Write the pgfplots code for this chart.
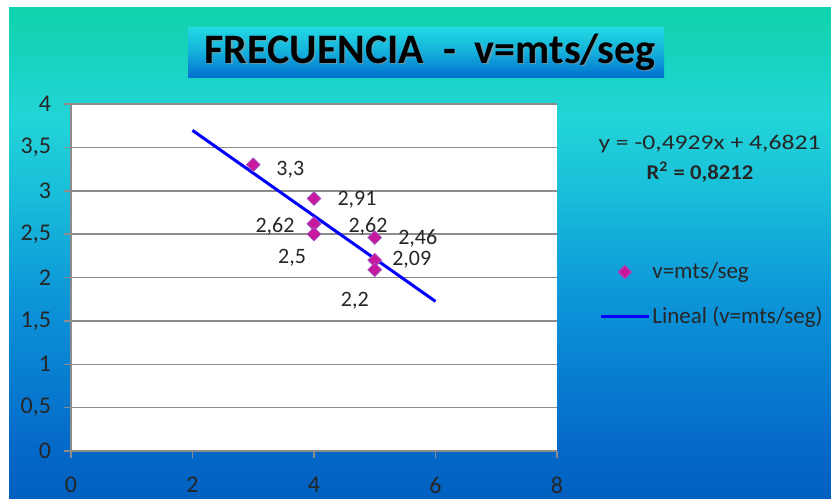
\documentclass[border=0pt]{standalone}
\usepackage{fontspec}
\setmainfont{Carlito}
\usepackage{graphicx}
\usepackage{pgfplots}
\usepackage{pgfplotstable}
\pgfplotsset{compat=1.18}
\definecolor{cA}{HTML}{0060C0}
\definecolor{cB}{HTML}{0468C8}
\definecolor{cC}{HTML}{0C94D8}
\definecolor{cD}{HTML}{18BCDA}
\definecolor{cE}{HTML}{22D4D8}
\definecolor{cF}{HTML}{10D3AC}
\definecolor{ttop}{HTML}{22DAE2}
\definecolor{tbot}{HTML}{0070D0}
\definecolor{mag}{HTML}{C8189E}
\definecolor{magd}{HTML}{A050C0}
\definecolor{gridc}{HTML}{8C8C8C}
\pgfdeclareverticalshading{bgshade}{100bp}{color(0bp)=(cA); color(25bp)=(cA); color(29.8bp)=(cB); color(45bp)=(cC); color(55.5bp)=(cD); color(63.5bp)=(cE); color(75bp)=(cF); color(100bp)=(cF)}
\pgfplotsset{
  legmark/.style={legend image code/.code={\draw[mark repeat=2, mark phase=2, ##1] plot coordinates {(0pt,0pt) (12pt,0pt) (24pt,0pt)};}},
  legline/.style={legend image code/.code={\draw[##1] (0pt,0pt) -- (24pt,0pt);}}
}
\pgfplotstableread{
x y lbl dx dy
3 3.3 3,3 18.5 -2.5
4 2.91 2,91 21.5 -0.5
4 2.62 2,62 -19.5 -1.5
4 2.62 2,62 27 -1.5
4 2.5 2,5 -11 -12
5 2.46 2,46 21.5 -0.5
5 2.2 2,2 -10 -20.5
5 2.09 2,09 18.5 5
}\datatable
\pgfplotstableread{
x y
2 3.6963
6 1.7247
}\trendtable
\begin{document}
\begin{tikzpicture}
\fill[white] (0pt,0pt) rectangle (415.5pt,-249pt);
\shade[shading=bgshade] (4.5pt,-3.5pt) rectangle (415.5pt,-249pt);
\shade[top color=ttop, bottom color=tbot, middle color=ttop!60!tbot] (94pt,-13.5pt) rectangle (332pt,-38.5pt);
\node[font=\bfseries\fontsize{21}{22}\selectfont, text=black!40, opacity=0.6] at (215.6pt,-26.6pt) {FRECUENCIA\ \ -\ \ v=mts/seg};
\node[font=\bfseries\fontsize{21}{22}\selectfont, text=black] at (215pt,-26pt) {FRECUENCIA\ \ -\ \ v=mts/seg};
\node[font=\fontsize{10.5}{12}\selectfont, text=black!85] at (354.75pt,-72pt) {\scalebox{1.22}[1]{y = -0,4929x + 4,6821}};
\node[font=\bfseries\fontsize{10.5}{12}\selectfont, text=black!85] at (350pt,-86pt) {\scalebox{1.08}[1]{R\textsuperscript{2} = 0,8212}};
\begin{axis}[
  at={(35.5pt,-225.5pt)}, anchor=south west,
  scale only axis, width=243pt, height=173.5pt,
  xmin=0, xmax=8, ymin=0, ymax=4,
  xtick={0,2,4,6,8}, ytick={0,0.5,...,4},
  axis x line*=bottom, axis y line*=left,
  axis line style={gridc, line width=0.75pt, -},
  tick style={gridc, line width=0.75pt},
  tick align=outside, major tick length=3.5pt,
  ymajorgrids, grid style={gridc, line width=0.75pt},
  axis background/.style={fill=white},
  tick label style={font=\fontsize{12}{13}\selectfont, text=black!85},
  xticklabel style={yshift=-6pt},
  yticklabel style={xshift=-3pt},
  /pgf/number format/use comma,
  /pgf/number format/assume math mode=true,
  legend cell align=left,
  legend style={draw=none, fill=none, at={(1.074,0.451)}, anchor=west,
    font=\fontsize{11.5}{12}\selectfont, text=black!85, row sep=10.5pt,
    nodes={inner sep=1pt}},
  clip=false,
]
\addplot[only marks, mark=square*, mark size=2.4pt,
  mark options={rotate=45, fill=mag, draw=magd, line width=0.4pt},
  nodes near coords, point meta=explicit symbolic,
  visualization depends on={\thisrow{dx}\as\dx},
  visualization depends on={\thisrow{dy}\as\dy},
  every node near coord/.append style={anchor=center, xshift=\dx pt, yshift=\dy pt,
    font=\fontsize{11}{12}\selectfont, text=black!85},
  legmark
] table[x=x, y=y, meta=lbl] {\datatable};
\addlegendentry{v=mts/seg}
\addplot[blue, line width=1.5pt, no marks, legline] table[x=x, y=y] {\trendtable};
\addlegendentry{Lineal (v=mts/seg)}
\end{axis}
\end{tikzpicture}
\end{document}
